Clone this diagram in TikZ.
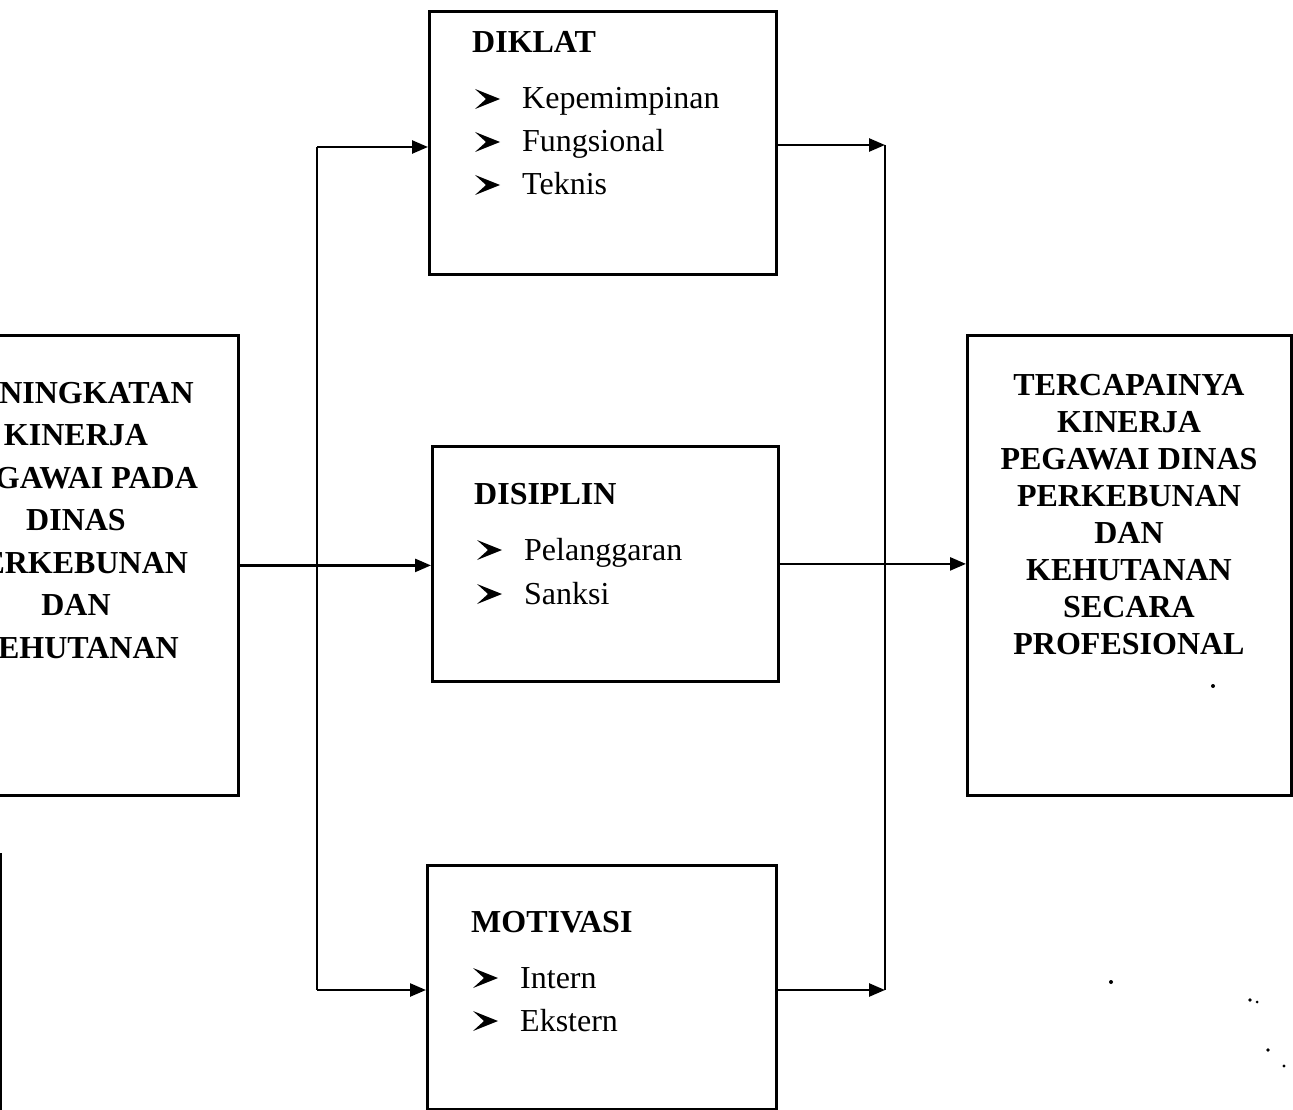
\documentclass[tikz,border=0pt]{standalone}
\usepackage{fontspec}
\setmainfont{Liberation Serif}
\usetikzlibrary{arrows.meta,calc}
\tikzset{
  box/.style={draw=black, line width=2.8pt, inner sep=0pt, anchor=north west},
  conn/.style={draw=black, line width=2.5pt},
  arr/.style={conn, -{Triangle[length=16pt,width=13pt]}},
  boxtitle/.style={font=\fontsize{32}{37}\selectfont\bfseries, anchor=base west, inner sep=0pt},
  itemtext/.style={font=\fontsize{32}{43}\selectfont, anchor=base west, inner sep=0pt},
  bigtext/.style={font=\fontsize{32}{37}\selectfont\bfseries, anchor=base, inner sep=0pt},
  bul/.pic={\fill (0,0) -- (-25,-10) -- (-14,0) -- (-25,10) -- cycle;}
}
\begin{document}
\begin{tikzpicture}[x=1pt,y=-1pt]
\useasboundingbox (0,0) rectangle (1293,1110);
\clip (0,0) rectangle (1293,1110);

% boxes
\node[box, minimum width=327pt, minimum height=460pt] (left) at (-90,334) {};
\node[box, minimum width=347pt, minimum height=263pt] (diklat) at (428,10) {};
\node[box, minimum width=346pt, minimum height=235pt] (disiplin) at (431,445) {};
\node[box, minimum width=349pt, minimum height=244pt] (motivasi) at (426,864) {};
\node[box, minimum width=324pt, minimum height=460pt] (result) at (966,334) {};

% left box text
\foreach \t [count=\i] in {PENINGKATAN,KINERJA,PEGAWAI PADA,DINAS,PERKEBUNAN,DAN,KEHUTANAN}
  \node[bigtext] (L\i) at (76,{403+42.5*(\i-1)}) {\t};

% right box text
\foreach \t [count=\i] in {TERCAPAINYA,KINERJA,PEGAWAI DINAS,PERKEBUNAN,DAN,KEHUTANAN,SECARA,PROFESIONAL}
  \node[bigtext] (R\i) at (1129,{395+37*(\i-1)}) {\t};

% DIKLAT
\node[boxtitle] (dt) at (472,53) {DIKLAT};
\node[itemtext] (d1) at (522,109) {Kepemimpinan};
\node[itemtext] (d2) at (522,152) {Fungsional};
\node[itemtext] (d3) at (522,195) {Teknis};
% DISIPLIN
\node[boxtitle] (st) at (474,504) {DISIPLIN};
\node[itemtext] (s1) at (524,560) {Pelanggaran};
\node[itemtext] (s2) at (524,604) {Sanksi};
% MOTIVASI
\node[boxtitle] (mt) at (471,932) {MOTIVASI};
\node[itemtext] (m1) at (520,988) {Intern};
\node[itemtext] (m2) at (520,1031) {Ekstern};

\foreach \n in {d1,d2,d3,s1,s2,m1,m2}
  \pic at ($(\n.base west)+(-22,-10)$) {bul};

% connectors
\coordinate (bt) at (317,147);
\coordinate (bb) at (317,990);
\coordinate (rt) at (885,145);
\coordinate (rb) at (885,990);
\draw[conn] (bt) -- (bb);
\draw[arr] (left.east) -- (left.east -| disiplin.west);
\draw[arr] (bt) -- (bt -| diklat.west);
\draw[arr] (bb) -- (bb -| motivasi.west);
\draw[conn] (rt) -- (rb);
\draw[arr] (diklat.east |- rt) -- (rt);
\draw[arr] (motivasi.east |- rb) -- (rb);
\draw[arr] (disiplin.east) -- (disiplin.east -| result.west);

% edge line and specks from the scan
\draw[line width=1.8pt] (1,853) -- (1,1110);
\fill (1213,686) circle (2pt);
\fill (1111,982) circle (2pt);
\fill (1250,1000) circle (1.8pt);
\fill (1257,1002) circle (1.5pt);
\fill (1268,1050) circle (1.8pt);
\fill (1284,1066) circle (1.6pt);
\end{tikzpicture}
\end{document}
